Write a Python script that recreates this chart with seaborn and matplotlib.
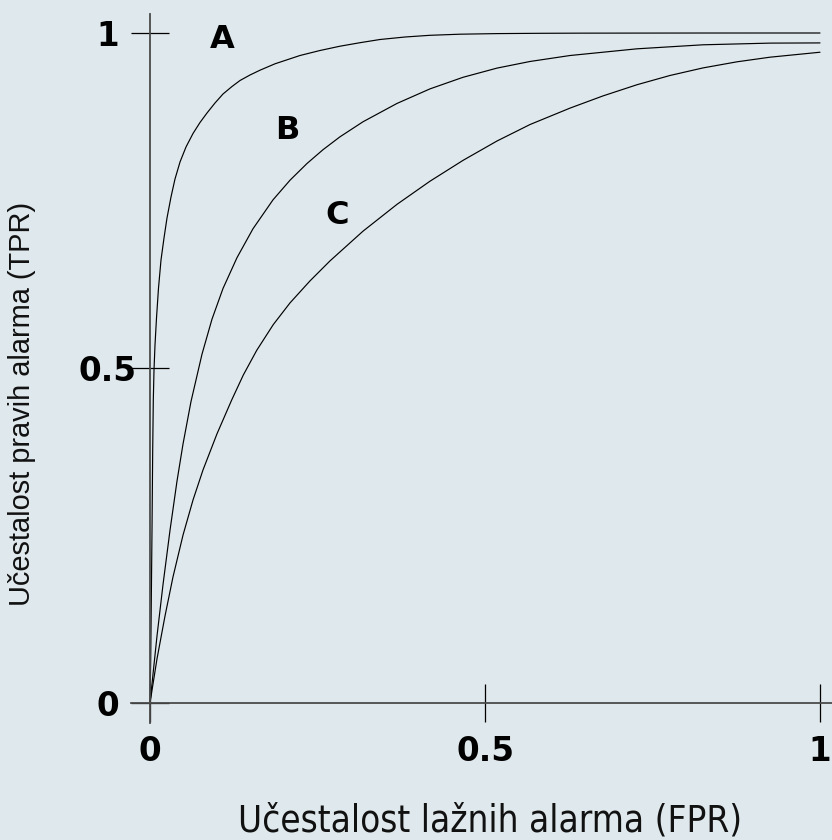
import matplotlib
matplotlib.use("Agg")
import matplotlib.pyplot as plt
from matplotlib import font_manager as fm
import seaborn as sns
import pandas as pd

# ---- data ----
fpr_a = [0.0, 0.00104, 0.00194, 0.00299, 0.00403, 0.00493, 0.00597, 0.00746, 0.00970, 0.01269,
         0.01642, 0.02090, 0.02537, 0.03134, 0.03731, 0.04478, 0.05373, 0.06418, 0.07463, 0.08507,
         0.09701, 0.10896, 0.12239, 0.13433, 0.14925, 0.16418, 0.18657, 0.22388, 0.25373, 0.28358,
         0.31343, 0.34328, 0.38060, 0.41791, 0.46269, 0.51791, 0.58209, 0.64179, 0.82090, 1.0]
tpr_a = [0.0, 0.06418, 0.15373, 0.25821, 0.37761, 0.45224, 0.49701, 0.53433, 0.57463, 0.61940,
         0.66119, 0.69403, 0.72388, 0.75522, 0.78209, 0.80746, 0.82985, 0.85000, 0.86642, 0.88060,
         0.89552, 0.90896, 0.92015, 0.92910, 0.93731, 0.94448, 0.95403, 0.96642, 0.97388, 0.98030,
         0.98552, 0.99030, 0.99403, 0.99657, 0.99821, 0.99910, 0.99955, 0.99978, 0.99997, 1.0]

fpr_b = [0.0, 0.0104, 0.0194, 0.0299, 0.0403, 0.0493, 0.0612, 0.0776, 0.0925, 0.1090,
         0.1299, 0.1537, 0.1836, 0.2090, 0.2343, 0.2582, 0.2836, 0.3179, 0.3687, 0.4179,
         0.4672, 0.5179, 0.5672, 0.6269, 0.7269, 0.8254, 0.9254, 1.0]
tpr_b = [0.0, 0.0996, 0.1766, 0.2581, 0.3312, 0.3867, 0.4500, 0.5206, 0.5728, 0.6188,
         0.6648, 0.7078, 0.7510, 0.7803, 0.8052, 0.8258, 0.8451, 0.8675, 0.8949, 0.9166,
         0.9339, 0.9476, 0.9575, 0.9664, 0.9764, 0.9824, 0.9849, 0.9852]

fpr_c = [0.0, 0.0104, 0.0224, 0.0343, 0.0493, 0.0642, 0.0791, 0.1000, 0.1219, 0.1393,
         0.1593, 0.1840, 0.2090, 0.2388, 0.2687, 0.3179, 0.3687, 0.4179, 0.4672, 0.5179,
         0.5672, 0.6269, 0.6761, 0.7269, 0.7761, 0.8254, 0.8761, 0.9254, 1.0]
tpr_c = [0.0, 0.0657, 0.1299, 0.1881, 0.2507, 0.3030, 0.3478, 0.4018, 0.4522, 0.4896,
         0.5264, 0.5648, 0.5972, 0.6300, 0.6599, 0.7042, 0.7443, 0.7788, 0.8099, 0.8388,
         0.8634, 0.8879, 0.9061, 0.9228, 0.9366, 0.9479, 0.9570, 0.9639, 0.9713]

curve_names = ["A", "B", "C"]
label_x = [0.108, 0.205, 0.279]
label_y = [0.990, 0.854, 0.728]

tick_values = [0, 0.5, 1]
tick_labels = ["0", "0.5", "1"]

x_title = "Učestalost lažnih alarma (FPR)"
y_title = "Učestalost pravih alarma (TPR)"

# ---- figure ----
bg = "#dfe8ec"
sns.set_theme(style="white")
plt.rcParams["font.family"] = ["DejaVu Sans"]

fig = plt.figure(figsize=(8.32, 8.40), dpi=100, facecolor=bg)
ax = fig.add_axes([131 / 832, 1 - 723 / 840, 1 - 131 / 832, (723 - 14) / 840])
ax.set_facecolor(bg)

frames = []
for name, fx, fy in zip(curve_names, [fpr_a, fpr_b, fpr_c], [tpr_a, tpr_b, tpr_c]):
    frames.append(pd.DataFrame({"fpr": fx, "tpr": fy, "curve": name}))
df = pd.concat(frames, ignore_index=True)

sns.lineplot(data=df, x="fpr", y="tpr", units="curve", estimator=None, sort=False,
             color="black", linewidth=0.85, ax=ax, legend=False)

ax.set_xlim(-19 / 670, 1 + 12 / 670)
ax.set_ylim(-20 / 670, 1 + 19 / 670)

for sp in ["top", "right"]:
    ax.spines[sp].set_visible(False)
ax.spines["left"].set_position(("data", 0))
ax.spines["bottom"].set_position(("data", 0))
for sp in ["left", "bottom"]:
    ax.spines[sp].set_color("#4a4a4a")
    ax.spines[sp].set_linewidth(1.3)

ax.set_xticks(tick_values)
ax.set_xticklabels(tick_labels)
ax.set_yticks(tick_values)
ax.set_yticklabels(tick_labels)
ax.tick_params(axis="both", direction="inout", length=28, width=0.9, color="black",
               labelsize=23.5, labelcolor="black", bottom=True, left=True)
ax.tick_params(axis="x", pad=9)
ax.tick_params(axis="y", pad=16.5)
for lab in ax.get_xticklabels():
    lab.set_fontweight("bold")
for lab in ax.get_yticklabels():
    lab.set_fontweight("bold")
    lab.set_horizontalalignment("center")

ax.set_xlabel("")
ax.set_ylabel("")

for name, lx, ly in zip(curve_names, label_x, label_y):
    ax.text(lx, ly, name, fontsize=23, fontweight="bold", ha="center", va="center",
            color="black")

# condensed face for the x title if one is installed
xfam, xstretch = ["Liberation Sans", "DejaVu Sans"], "normal"
try:
    p = fm.findfont(fm.FontProperties(family="DejaVu Sans", stretch="condensed"),
                    fallback_to_default=False)
    if "Condensed" in p:
        xfam, xstretch = ["DejaVu Sans", "Liberation Sans"], "condensed"
except Exception:
    pass
names = {f.name for f in fm.fontManager.ttflist}
if "Liberation Sans Narrow" in names:
    xfam, xstretch = ["Liberation Sans Narrow", "Liberation Sans"], "normal"

xt = fig.text(490 / 832, 1 - 831 / 840, x_title, ha="center", va="baseline",
              fontsize=24, family=xfam, stretch=xstretch, color="#111111")
yt = fig.text(22 / 832, 1 - 404 / 840, y_title, ha="center", va="center", rotation=90,
              fontsize=20, family=["Liberation Sans", "DejaVu Sans"], color="#111111")

fig.canvas.draw()
w = xt.get_window_extent().width
xt.set_fontsize(24 * 505 / w)
h = yt.get_window_extent().height
yt.set_fontsize(20 * 405 / h)

fig.savefig("out.png", dpi=100, facecolor=bg)
